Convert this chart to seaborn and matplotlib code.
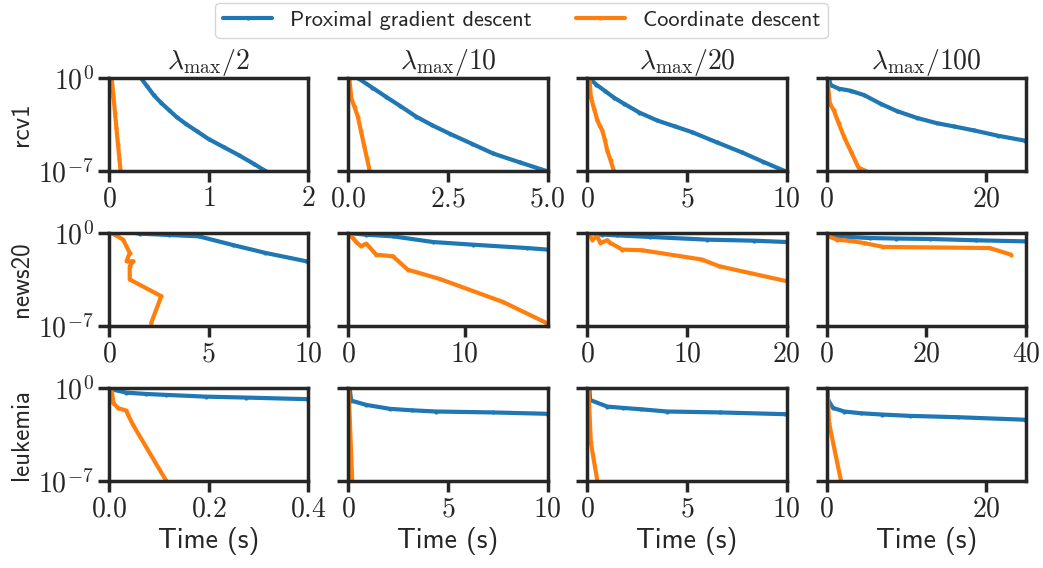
import numpy as np
import pandas as pd
import matplotlib
matplotlib.use("Agg")
import matplotlib.pyplot as plt
import seaborn as sns

# ---------------- data (log10 of suboptimality vs time in seconds) ----------------
datasets = ["rcv1", "news20", "leukemia"]
lambda_labels = [r"$\lambda_{\max}/2$", r"$\lambda_{\max}/10$", r"$\lambda_{\max}/20$", r"$\lambda_{\max}/100$"]
solvers = ["Proximal gradient descent", "Coordinate descent"]

# rcv1
rcv1_l2_pgd_t = [0.30, 0.38, 0.45, 0.52, 0.60, 0.68, 0.77, 0.88, 1.00, 1.15, 1.30, 1.45, 1.57, 1.75]
rcv1_l2_pgd_v = [0.20, -0.60, -1.30, -1.85, -2.40, -2.95, -3.45, -4.00, -4.60, -5.20, -5.80, -6.45, -7.00, -7.80]
rcv1_l2_cd_t = [0.0, 0.027, 0.045, 0.06, 0.075, 0.09, 0.105, 0.116, 0.13]
rcv1_l2_cd_v = [0.5, 0.0, -1.4, -2.6, -3.8, -5.0, -6.1, -7.0, -8.0]
rcv1_l10_pgd_t = [0.0, 0.24, 0.60, 0.95, 1.30, 1.70, 2.10, 2.55, 3.10, 3.63, 4.30, 4.97]
rcv1_l10_pgd_v = [0.3, 0.0, -0.72, -1.42, -2.10, -2.90, -3.55, -4.20, -4.95, -5.68, -6.35, -7.00]
rcv1_l10_cd_t = [0.0, 0.03, 0.08, 0.16, 0.24, 0.32, 0.40, 0.47, 0.54]
rcv1_l10_cd_v = [0.2, -0.10, -1.55, -2.20, -2.90, -4.00, -5.10, -6.05, -7.00]
rcv1_l20_pgd_t = [0.08, 0.45, 0.90, 1.35, 1.83, 2.60, 3.50, 4.40, 5.25, 6.50, 7.75, 8.80, 9.90]
rcv1_l20_pgd_v = [0.00, -0.50, -1.00, -1.50, -1.93, -2.60, -3.20, -3.65, -4.08, -4.85, -5.60, -6.30, -7.00]
rcv1_l20_cd_t = [0.10, 0.17, 0.33, 0.50, 0.62, 0.75, 0.88, 1.00, 1.16, 1.33]
rcv1_l20_cd_v = [0.00, -1.42, -2.30, -3.20, -3.60, -3.96, -4.70, -5.48, -6.20, -7.00]
rcv1_l100_pgd_t = [0.30, 0.50, 1.50, 3.00, 4.70, 6.80, 8.80, 11.3, 13.80, 16.0, 18.5, 21.5, 24.9]
rcv1_l100_pgd_v = [-0.10, -0.53, -0.80, -0.96, -1.29, -1.95, -2.49, -3.00, -3.40, -3.65, -3.95, -4.35, -4.72]
rcv1_l100_cd_t = [0.10, 0.40, 0.90, 1.50, 2.20, 3.10, 4.00, 4.90]
rcv1_l100_cd_v = [-0.10, -1.93, -2.44, -3.40, -4.46, -5.60, -6.75, -7.00]

# news20
news20_l2_pgd_t = [0.0, 1.54, 3.0, 4.50, 6.20, 7.85, 9.90]
news20_l2_pgd_v = [0.3, -0.05, -0.15, -0.25, -0.90, -1.50, -2.13]
news20_l2_cd_t = [0.13, 0.71, 1.04, 0.88, 1.21, 1.04, 1.04, 2.62, 2.12]
news20_l2_cd_v = [0.00, -0.50, -1.50, -2.13, -2.13, -2.50, -3.50, -4.76, -6.77]
news20_l10_pgd_t = [0.0, 1.55, 3.84, 7.28, 10.7, 15.3, 17.1]
news20_l10_pgd_v = [0.00, -0.13, -0.25, -0.68, -0.88, -1.13, -1.25]
news20_l10_cd_t = [0.10, 0.40, 0.70, 1.10, 1.55, 2.40, 3.84, 5.10, 7.85, 13.3, 17.0]
news20_l10_cd_v = [-0.13, -0.38, -0.70, -1.00, -0.80, -1.63, -1.76, -2.76, -3.46, -5.20, -6.77]
news20_l20_pgd_t = [0.17, 1.5, 3.0, 6.3, 12.0, 16.7, 20.0]
news20_l20_pgd_v = [0.00, -0.12, -0.18, -0.30, -0.50, -0.58, -0.68]
news20_l20_cd_t = [0.10, 0.50, 1.00, 1.30, 2.00, 2.30, 3.50, 5.50, 11.5, 13.2, 20.0]
news20_l20_cd_v = [-0.05, -0.50, -0.25, -0.75, -0.55, -0.75, -1.25, -1.30, -2.00, -2.50, -3.63]
news20_l100_pgd_t = [0.30, 2.10, 4.5, 8.70, 14.0, 20.7, 30.0, 39.8]
news20_l100_pgd_v = [-0.05, -0.20, -0.30, -0.38, -0.42, -0.45, -0.55, -0.63]
news20_l100_cd_t = [0.30, 2.10, 5.40, 7.40, 11.4, 32.7, 37.0]
news20_l100_cd_v = [-0.25, -0.50, -0.63, -0.75, -1.05, -1.13, -1.63]

# leukemia
leukemia_l2_pgd_t = [0.005, 0.035, 0.075, 0.115, 0.194, 0.274, 0.397]
leukemia_l2_pgd_v = [-0.10, -0.35, -0.45, -0.52, -0.65, -0.72, -0.84]
leukemia_l2_cd_t = [0.005, 0.009, 0.0185, 0.035, 0.038, 0.048, 0.115]
leukemia_l2_cd_v = [-0.05, -1.14, -1.52, -1.70, -2.00, -2.76, -7.00]
leukemia_l10_pgd_t = [0.07, 0.15, 0.90, 2.10, 3.20, 4.40, 7.27, 9.95]
leukemia_l10_pgd_v = [0.00, -0.95, -1.27, -1.57, -1.68, -1.77, -1.84, -1.94]
leukemia_l10_cd_t = [0.02, 0.20]
leukemia_l10_cd_v = [0.00, -7.00]
leukemia_l20_pgd_t = [0.10, 0.13, 1.00, 1.80, 2.67, 4.00, 6.67, 9.90]
leukemia_l20_pgd_v = [0.00, -0.90, -1.40, -1.50, -1.60, -1.77, -1.84, -1.97]
leukemia_l20_cd_t = [0.05, 0.17, 0.50]
leukemia_l20_cd_v = [0.00, -4.10, -7.00]
leukemia_l100_pgd_t = [0.10, 0.17, 0.8, 2.20, 4.25, 7.0, 10.5, 16.5, 24.9]
leukemia_l100_pgd_v = [0.00, -0.90, -1.50, -1.77, -1.90, -2.00, -2.10, -2.20, -2.39]
leukemia_l100_cd_t = [0.10, 0.30, 1.80]
leukemia_l100_cd_v = [0.00, -2.63, -7.00]

xlims = {
    "rcv1": [2, 5, 10, 25],
    "news20": [10, 17.1, 20, 40],
    "leukemia": [0.4, 10, 10, 25],
}
xtick_vals = {
    "rcv1": [[0, 1, 2], [0, 2.5, 5], [0, 5, 10], [0, 20]],
    "news20": [[0, 5, 10], [0, 10], [0, 10, 20], [0, 20, 40]],
    "leukemia": [[0, 0.2, 0.4], [0, 5, 10], [0, 5, 10], [0, 20]],
}
xtick_text = {
    "rcv1": [["0", "1", "2"], ["0.0", "2.5", "5.0"], ["0", "5", "10"], ["0", "20"]],
    "news20": [["0", "5", "10"], ["0", "10"], ["0", "10", "20"], ["0", "20", "40"]],
    "leukemia": [["0.0", "0.2", "0.4"], ["0", "5", "10"], ["0", "5", "10"], ["0", "20"]],
}
lam_keys = ["l2", "l10", "l20", "l100"]

# ---------------- build long table ----------------
g = globals()
rows = []
for d in datasets:
    for j, lk in enumerate(lam_keys):
        for s, sk in zip(solvers, ["pgd", "cd"]):
            ts = g[f"{d}_{lk}_{sk}_t"]
            vs = g[f"{d}_{lk}_{sk}_v"]
            for k, (t, v) in enumerate(zip(ts, vs)):
                rows.append(dict(dataset=d, lam=j, solver=s, order=k, time=t, subopt=10.0 ** v))
df = pd.DataFrame(rows)

# ---------------- style ----------------
sns.set_theme(style="ticks")
plt.rcParams["mathtext.fontset"] = "cm"
plt.rcParams["font.family"] = ["cmss10", "DejaVu Sans"]
plt.rcParams["axes.unicode_minus"] = False
edge = "#262626"
plt.rcParams.update({
    "axes.linewidth": 2.5,
    "axes.edgecolor": edge,
    "xtick.major.width": 2.5,
    "ytick.major.width": 2.5,
    "xtick.major.size": 8,
    "ytick.major.size": 8,
    "xtick.color": edge,
    "ytick.color": edge,
    "text.color": edge,
    "axes.labelcolor": edge,
})

palette = {"Proximal gradient descent": "#1f77b4", "Coordinate descent": "#ff7f0e"}

fig, axes = plt.subplots(3, 4, figsize=(10.43, 5.68), dpi=100, sharey=True)
fig.subplots_adjust(left=0.1045, right=0.9837, top=0.8627, bottom=0.1532, wspace=0.2, hspace=0.667)

for i, d in enumerate(datasets):
    for j in range(4):
        ax = axes[i, j]
        sub = df[(df.dataset == d) & (df.lam == j)]
        sns.lineplot(data=sub, x="time", y="subopt", hue="solver", hue_order=solvers,
                     palette=palette, sort=False, estimator=None, units="solver",
                     marker="o", markersize=3, markeredgewidth=0, linewidth=3,
                     legend=False, ax=ax)
        ax.set_yscale("log")
        ax.set_ylim(1e-7, 1e0)
        ax.set_xlim(0, xlims[d][j])
        ax.set_yticks([1e-7, 1e0])
        ax.set_yticklabels([r"$10^{-7}$", r"$10^{0}$"])
        ax.yaxis.set_minor_locator(matplotlib.ticker.NullLocator())
        ax.set_xticks(xtick_vals[d][j])
        ax.set_xticklabels([f"${t}$" for t in xtick_text[d][j]])
        ax.tick_params(labelsize=20, pad=3)
        for sp in ax.spines.values():
            sp.set_visible(True)
        ax.set_xlabel("Time (s)" if i == 2 else "", fontsize=20)
        ax.set_ylabel(d if j == 0 else "", fontsize=18)
        if i == 0:
            ax.set_title(lambda_labels[j], fontsize=20, pad=2)

handles = axes[0, 0].get_lines()[:2]
fig.legend(handles, solvers, loc="upper center", bbox_to_anchor=(0.5, 1.015), ncol=2,
           fontsize=16, frameon=True, handlelength=2.2, columnspacing=2.0,
           borderpad=0.35)

fig.savefig("out.png", dpi=100)
